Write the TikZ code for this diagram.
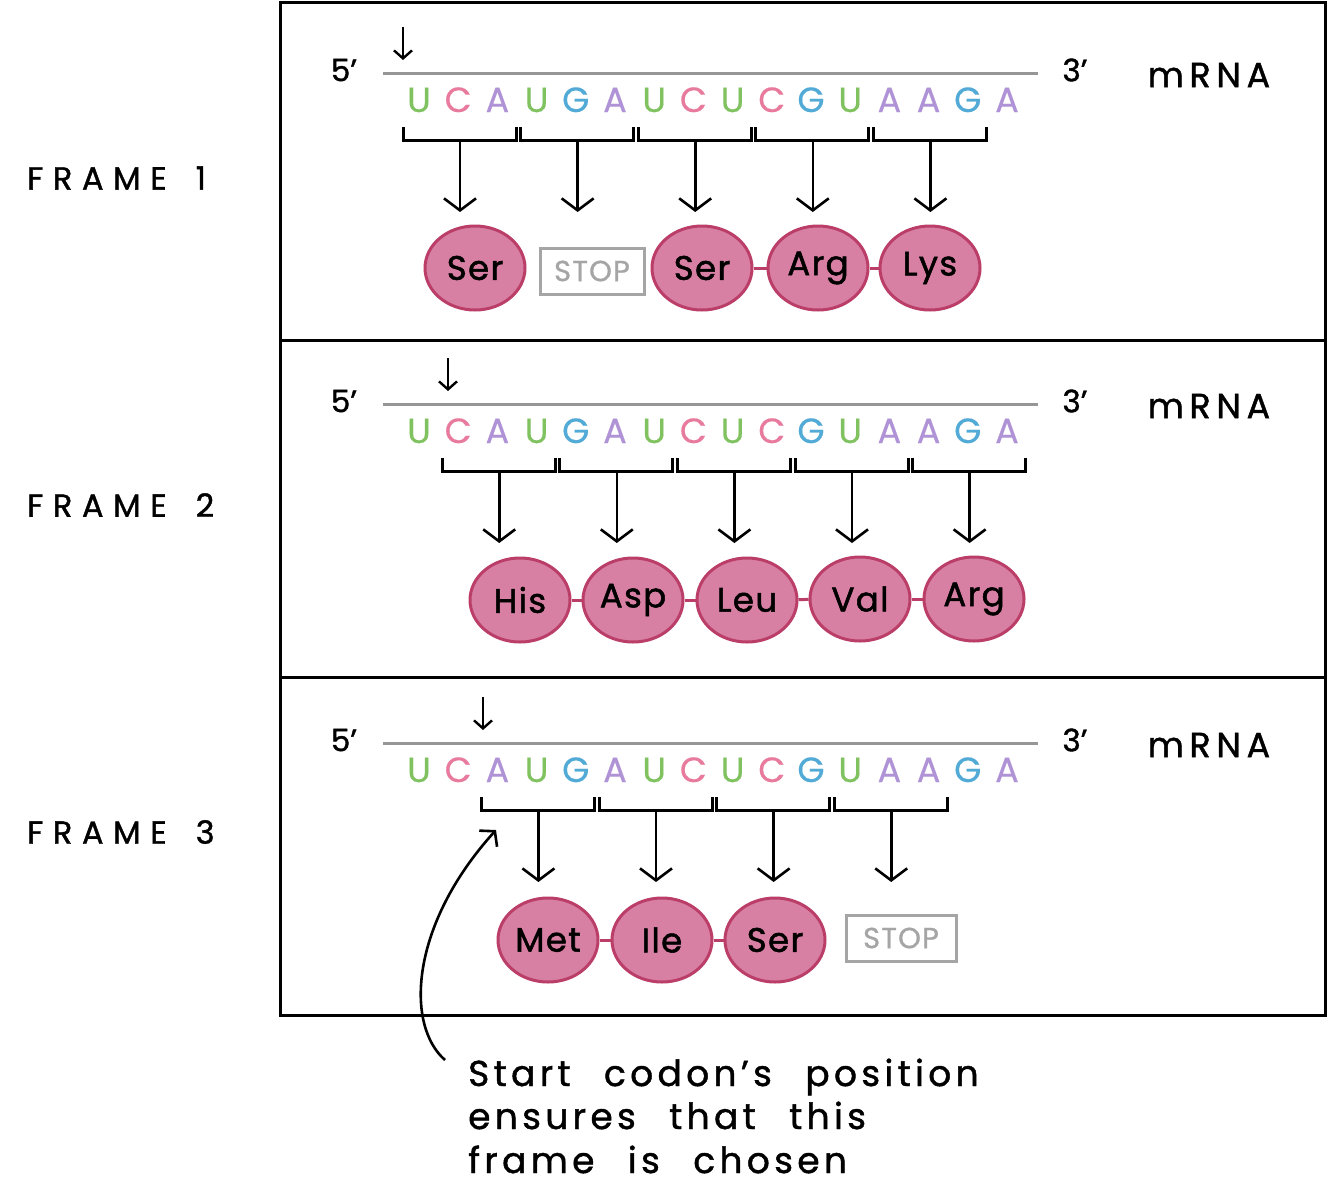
\documentclass[tikz,border=0pt]{standalone}
\usepackage{fontspec}
\setmainfont{Poppins}
\newfontfamily\notefont{Poppins}[LetterSpace=12,FakeBold=1.2,WordSpace=2.4]
\newfontfamily\framefont{Poppins}[LetterSpace=30,FakeBold=1.2,WordSpace=1.6]
\usetikzlibrary{arrows.meta,shapes.geometric}
\definecolor{nU}{RGB}{128,194,96}
\definecolor{nC}{RGB}{232,122,158}
\definecolor{nA}{RGB}{176,146,214}
\definecolor{nG}{RGB}{82,170,214}
\definecolor{aafill}{RGB}{216,128,163}
\definecolor{aadraw}{RGB}{186,62,104}
\definecolor{rnagray}{RGB}{150,150,150}
\definecolor{stopgray}{RGB}{165,165,165}
\newcommand\fsz[3]{\fontsize{#1}{#1}\selectfont\addfontfeatures{LetterSpace=#2,FakeBold=#3}}
\newcommand\mrnarow[4]{%
  \coordinate (#1L0) at (383,#2);
  \coordinate (#1L1) at (1038,#2);
  \draw[rnaline] (#1L0) -- (#1L1);
  \node[endlab] (#1five) at (344,#2-3) {5’};
  \node[endlab] (#1three) at (1075,#2-3) {3’};
  \node[rnalab] (#1mrna) at (1209,#2+2) {mRNA};
  \foreach \ch [count=\i from 0] in {U,C,A,U,G,A,U,C,U,C,G,U,A,A,G,A}
    \node[nuc,text=n\ch] (#1n\i) at ({419+39.2*\i},#2+39) {\ch};
  \coordinate (#1s0) at (#3,#2-46);
  \coordinate (#1s1) at (#3,#2-13);
  \draw[smallarr] (#1s0) -- (#1s1);
  \foreach \k [count=\j] in {#4} {
    \coordinate (#1b\j) at ({419+39.2*\k+41},#2+67);
    \coordinate (#1e\j) at ({419+39.2*\k+41},#2+139);
    \draw[brk] ({419+39.2*\k-16},#2+54) -- ({419+39.2*\k-16},#2+67)
      -- ({419+39.2*\k+97},#2+67) -- ({419+39.2*\k+97},#2+54);
    \draw[arr] (#1b\j) -- (#1e\j);
  }
}
\begin{document}
\begin{tikzpicture}[x=1pt,y=-1pt,
  framebox/.style={draw=black,line width=3pt,minimum width=1045pt,inner sep=0pt},
  framelab/.style={anchor=west,inner sep=0pt,font=\framefont\fontsize{32}{32}\selectfont},
  rnaline/.style={draw=rnagray,line width=3pt},
  endlab/.style={inner sep=0pt,font=\fsz{31}{0}{1.2}},
  rnalab/.style={inner sep=0pt,font=\fsz{35}{16}{1.2}},
  nuc/.style={anchor=base,inner sep=0pt,font=\fsz{35}{0}{0.4}},
  smallarr/.style={line width=2.4pt,-{Straight Barb[length=8pt,width=18pt,line width=2.4pt]}},
  brk/.style={line width=3pt,line join=miter},
  arr/.style={line width=2.6pt,-{Straight Barb[length=12pt,width=32pt,line width=2.6pt]}},
  aa/.style={ellipse,draw=aadraw,fill=aafill,line width=3pt,minimum width=100pt,minimum height=84pt,inner sep=0pt,font=\fsz{34}{4}{1.5}},
  stopbox/.style={draw=stopgray,line width=3pt,minimum width=104pt,minimum height=46pt,inner sep=0pt,text=stopgray,font=\fsz{29}{4}{0.8}},
  chainlink/.style={draw=aadraw,line width=3pt},
  note/.style={anchor=base west,inner sep=0pt,font=\notefont\fontsize{36}{36}\selectfont},
  curvearr/.style={line width=2.6pt,-{Straight Barb[length=10pt,width=24pt,line width=2.6pt]}}
]
\useasboundingbox (0,0) rectangle (1333,1200);
\fill[white] (0,0) rectangle (1333,1200);

% frames
\node[framebox,minimum height=338pt] (fr1) at (802.5,171) {};
\node[framebox,minimum height=337pt] (fr2) at (802.5,508.5) {};
\node[framebox,minimum height=338pt] (fr3) at (802.5,846) {};

\node[framelab] (lab1) at (27,178) {FRAME 1};
\node[framelab] (lab2) at (27,505) {FRAME 2};
\node[framelab] (lab3) at (27,832) {FRAME 3};

% frame 1
\mrnarow{fa}{73}{403}{0,3,6,9,12}
\node[aa] (faa1) at (475,268) {Ser};
\node[stopbox] (faa2) at (592,271) {STOP};
\node[aa] (faa3) at (702,268) {Ser};
\node[aa] (faa4) at (818,268) {Arg};
\node[aa] (faa5) at (930,268) {Lys};
\draw[chainlink] (faa3) -- (faa4);
\draw[chainlink] (faa4) -- (faa5);

% frame 2
\mrnarow{fb}{404}{448}{1,4,7,10,13}
\node[aa] (fba1) at (520,600) {His};
\node[aa] (fba2) at (633,600) {Asp};
\node[aa] (fba3) at (747,600) {Leu};
\node[aa] (fba4) at (860,599) {Val};
\node[aa] (fba5) at (974,599) {Arg};
\draw[chainlink] (fba1) -- (fba2);
\draw[chainlink] (fba2) -- (fba3);
\draw[chainlink] (fba3) -- (fba4);
\draw[chainlink] (fba4) -- (fba5);

% frame 3
\mrnarow{fc}{743}{483}{2,5,8,11}
\node[aa] (fca1) at (548,940) {Met};
\node[aa] (fca2) at (662,940) {Ile};
\node[aa] (fca3) at (775,940) {Ser};
\node[stopbox,minimum width=110pt] (fca4) at (901,938) {STOP};
\draw[chainlink] (fca1) -- (fca2);
\draw[chainlink] (fca2) -- (fca3);

% note
\node[note] (note1) at (468,1086) {Start codon’s position};
\node[note] (note2) at (468,1129) {ensures that this};
\node[note] (note3) at (468,1173) {frame is chosen};
\coordinate (cstart) at (445,1060);
\coordinate (ctip) at (496,830);
\draw[curvearr] (cstart) .. controls (405,1025) and (410,925) .. (ctip);
\end{tikzpicture}
\end{document}
